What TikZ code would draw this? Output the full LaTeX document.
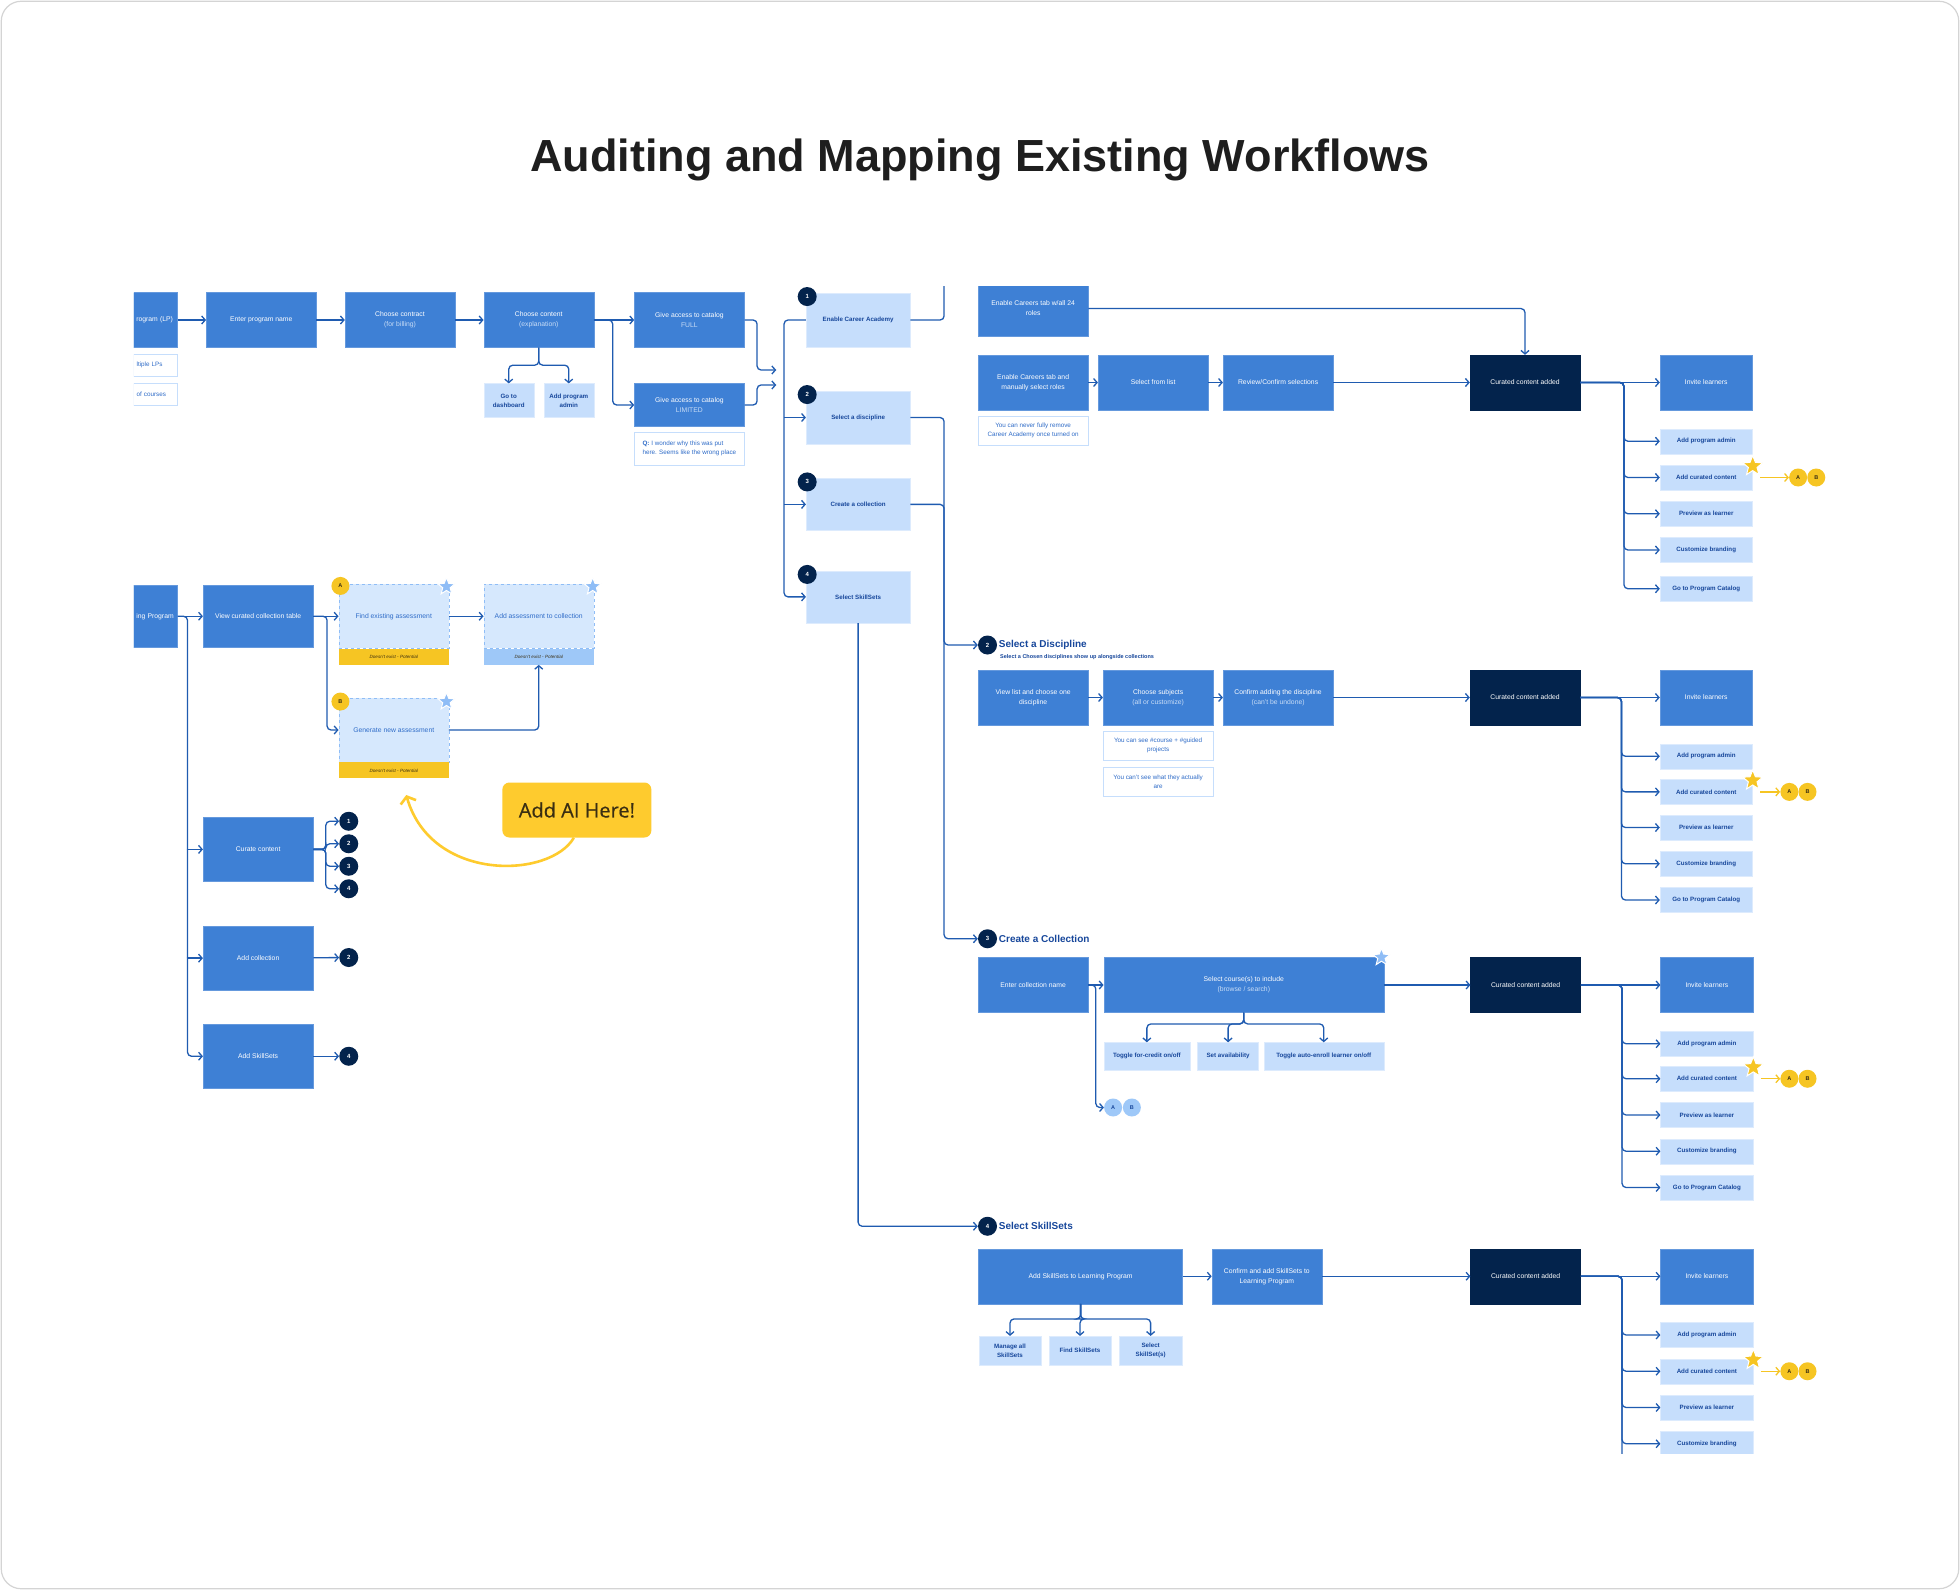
\documentclass[tikz,border=0pt]{standalone}
\usepackage{fontspec}
\setmainfont{Liberation Sans}
\newfontfamily\aifont[FakeBold=0.6]{Open Sans}
\usepackage{xcolor}
\usepackage{tikz}
\usetikzlibrary{calc, positioning, arrows.meta, shapes.geometric}
\definecolor{flowblue}{HTML}{3E80D5}
\definecolor{flowlite}{HTML}{C6DEFC}
\definecolor{flowpale}{HTML}{D6E8FD}
\definecolor{flownavy}{HTML}{03234C}
\definecolor{flowwire}{HTML}{1F5BB0}
\definecolor{flowink}{HTML}{17479B}
\definecolor{flownote}{HTML}{2F6CC8}
\definecolor{flowsub}{HTML}{C9DDF6}
\definecolor{flowgold}{HTML}{F6C523}
\definecolor{flowai}{HTML}{FECB2E}
\definecolor{flowaiink}{HTML}{3A2E12}
\definecolor{flowsky}{HTML}{9EC8F8}
\definecolor{flowstar}{HTML}{8FBDF6}
\definecolor{flowframe}{HTML}{D4D4D4}
\definecolor{flowtitle}{HTML}{1E1E1E}
\newcommand{\dimtext}[1]{{\color{flowsub}#1}}

\begin{document}
\begin{tikzpicture}[x=1.25pt, y=-1.25pt, font=\fontsize{6.8}{10}\selectfont]

\useasboundingbox (0,0) rectangle (1568,1272);

% Frame
\draw[flowframe, line width=1.2pt, rounded corners=20pt, fill=white] (1,1) rectangle (1567,1271);

% Title
\node[font=\fontsize{45}{54}\selectfont\bfseries, text=flowtitle] (title) at (784,128) {Auditing and Mapping Existing Workflows};

% Styles
\tikzset{
  blk/.style={draw=flowblue!80!white, fill=flowblue, text=white, align=center, inner sep=1pt, minimum width=110pt, minimum height=55pt},
  darkblk/.style={blk, draw=flownavy, fill=flownavy},
  lite/.style={draw=flowlite!60!white, fill=flowlite, text=flowink, align=center, inner sep=1pt, minimum width=92.5pt, minimum height=25pt, font=\fontsize{6.2}{9}\selectfont\bfseries},
  memo/.style={draw=flowlite, fill=white, text=flownote, align=center, inner sep=1pt, minimum width=110pt, minimum height=29pt, font=\fontsize{6.3}{9}\selectfont},
  pot/.style={draw=flowstar, dashed, fill=flowpale, text=flownote, inner sep=1pt, minimum width=110pt, minimum height=64pt},
  potfoot/.style={fill=flowgold, text=flowaiink, inner sep=0pt, minimum width=110pt, minimum height=16pt, font=\fontsize{4.6}{5}\selectfont\itshape},
  badge/.style={circle, fill=flownavy, text=white, inner sep=0pt, minimum size=19pt, font=\fontsize{6}{6}\selectfont\bfseries},
  goldb/.style={circle, fill=flowgold, text=flowaiink, inner sep=0pt, minimum size=18pt, font=\fontsize{5.5}{6}\selectfont\bfseries},
  ghost/.style={circle, fill=flowsky, text=flowink, inner sep=0pt, minimum size=18pt, font=\fontsize{5.5}{6}\selectfont\bfseries},
  hdr/.style={text=flowink, inner sep=1pt, font=\fontsize{10}{12}\selectfont\bfseries},
  wstar/.style={star, star points=5, star point ratio=2.3, minimum size=21pt, inner sep=0pt, fill=flowgold, draw=white, line width=1pt},
  bstar/.style={wstar, minimum size=18pt, fill=flowstar},
  wire/.style={draw=flowwire, line width=1.3pt, rounded corners=4pt, -{Straight Barb[length=3.5pt, width=8pt]}},
  bare/.style={wire, -},
  goldwire/.style={draw=flowgold, line width=1.3pt, -{Straight Barb[length=3.5pt, width=8pt]}}
}

\begin{scope}
\clip (107,229) rectangle (1566,1163);

% -- Top row: program setup --
\node[blk, minimum width=44pt, anchor=east, text width=38pt, align=left] (lpA) at (142,256) {rogram (LP)};
\node[memo, minimum width=44pt, minimum height=22pt, text width=38pt, align=left] (lpNoteA) at (124.5,292) {ltiple LPs};
\node[memo, minimum width=44pt, minimum height=22pt, text width=38pt, align=left] (lpNoteB) at (124.5,315) {of courses};
\node[blk] (progName) at (209,256) {Enter program name};
\node[blk] (contract) at (320,256) {Choose contract\\\dimtext{(for billing)}};
\node[blk] (content) at (431,256) {Choose content\\\dimtext{(explanation)}};
\node[lite, minimum width=50pt, minimum height=34pt] (dash) at (407,320.5) {Go to\\dashboard};
\node[lite, minimum width=50pt, minimum height=34pt] (progAdmin) at (455,320.5) {Add program\\admin};
\node[blk] (fullCat) at (551.5,256) {Give access to catalog\\\dimtext{FULL}};
\node[blk, minimum height=43pt] (limCat) at (551.5,324) {Give access to catalog\\\dimtext{LIMITED}};
\node[memo, align=left, minimum height=33pt] (qNote) at (551.5,359) {\textbf{Q:} I wonder why this was put\\here. Seems like the wrong place};

\draw[wire] (lpA) -- (progName);
\draw[wire] (progName) -- (contract);
\draw[wire] (contract) -- (content);
\draw[wire] (content) -- (fullCat);
\draw[wire] (content.east) -- ++(15,0) |- (limCat);
\draw[wire] (content.south) -- ++(0,14) -| (dash);
\draw[wire] (content.south) -- ++(0,14) -| (progAdmin);
\coordinate (busInA) at (621,296);
\coordinate (busInB) at (621,308);
\draw[wire] (fullCat.east) -- ++(10,0) |- (busInA);
\draw[wire] (limCat.east) -- ++(10,0) |- (busInB);

% -- Middle column: four choices --
\node[lite, minimum width=104pt, minimum height=54pt] (careerAc) at (686.5,256) {Enable Career Academy};
\node[lite, minimum width=104pt, minimum height=53pt] (pickDisc) at (686.5,334) {Select a discipline};
\node[lite, minimum width=104pt, minimum height=52pt] (makeColl) at (686.5,403.5) {Create a collection};
\node[lite, minimum width=104pt, minimum height=52pt] (pickSets) at (686.5,477.5) {Select SkillSets};
\foreach \nm/\k in {careerAc/1, pickDisc/2, makeColl/3, pickSets/4} {
  \node[badge] (\nm Tag) at ([shift={(1,3)}]\nm.north west) {\k};
}
\draw[wire] (careerAc.west) -- ++(-17.5,0) |- (pickSets);
\draw[wire] ($(pickDisc.west)+(-17.5,0)$) -- (pickDisc);
\draw[wire] ($(makeColl.west)+(-17.5,0)$) -- (makeColl);
\draw[bare] (careerAc.east) -- ++(27,0) -- ++(0,-40);

% -- Section 1: Career Academy --
\node[blk, anchor=south] (allRoles) at (826.5,269) {Enable Careers tab w/all 24\\roles};
\node[blk] (manRoles) at (826.5,306) {Enable Careers tab and\\manually select roles};
\node[memo] (neverNote) at (826.5,344.5) {You can never fully remove\\Career Academy once turned on};
\node[blk] (fromList) at (922.5,306) {Select from list};
\node[blk] (reviewSel) at (1022.5,306) {Review/Confirm selections};
\node[darkblk] (curA) at (1220,306) {Curated content added};
\node[blk, minimum width=92.5pt] (inviteA) at (1365,306) {Invite learners};

\draw[wire] (allRoles.east) -| (curA.north);
\draw[wire] (manRoles) -- (fromList);
\draw[wire] (fromList) -- (reviewSel);
\draw[wire] (reviewSel) -- (curA);
\draw[wire] (curA) -- (inviteA);
\foreach \nm/\yy/\txt in {adminA/353/Add program admin, curatedA/382/Add curated content, previewA/411/Preview as learner, brandA/440/Customize branding, catalogA/471/Go to Program Catalog} {
  \node[lite] (\nm) at (1365,\yy) {\txt};
  \draw[wire] (curA.east) -- ++(35,0) |- (\nm);
}
\node[goldb] (bA) at (1453,382) {B};
\node[goldb] (aA) at (1438.5,382) {A};
\draw[goldwire] ($(curatedA.east)+(6,0)$) -- (aA);
\node[wstar] (starA) at ([shift={(0,1)}]curatedA.north east) {};

% -- Section 2: Select a Discipline --
\node[badge] (hdrDisc) at (790,516) {2};
\node[hdr, right=0.5pt of hdrDisc] (hdrDiscT) {Select a Discipline};
\node[anchor=west, inner sep=0pt, text=flowink, font=\fontsize{5.5}{6}\selectfont\bfseries] (hdrDiscS) at (800,526) {Select a Chosen disciplines show up alongside collections};
\draw[wire] (pickDisc.east) -- ++(27,0) |- (hdrDisc);

\node[blk] (viewList) at (826.5,558) {View list and choose one\\discipline};
\node[blk] (chooseSubj) at (926.5,558) {Choose subjects\\\dimtext{(all or customize)}};
\node[blk] (confirmDisc) at (1022.5,558) {Confirm adding the discipline\\\dimtext{(can't be undone)}};
\node[memo] (seeNote) at (926.5,596.5) {You can see \#course + \#guided\\projects};
\node[memo] (cantNote) at (926.5,625) {You can't see what they actually\\are};
\node[darkblk] (curB) at (1220,558) {Curated content added};
\node[blk, minimum width=92.5pt] (inviteB) at (1365,558) {Invite learners};

\draw[wire] (viewList) -- (chooseSubj);
\draw[wire] (chooseSubj) -- (confirmDisc);
\draw[wire] (confirmDisc) -- (curB);
\draw[wire] (curB) -- (inviteB);
\foreach \nm/\yy/\txt in {adminB/605/Add program admin, curatedB/633.5/Add curated content, previewB/662/Preview as learner, brandB/691/Customize branding, catalogB/720/Go to Program Catalog} {
  \node[lite] (\nm) at (1365,\yy) {\txt};
  \draw[wire] (curB.east) -- ++(33,0) |- (\nm);
}
\node[goldb] (bB) at (1446,633.5) {B};
\node[goldb] (aB) at (1431.5,633.5) {A};
\draw[goldwire] ($(curatedB.east)+(6,0)$) -- (aB);
\node[wstar] (starB) at ([shift={(0,1)}]curatedB.north east) {};

% -- Section 3: Create a Collection --
\node[badge] (hdrColl) at (790,751) {3};
\node[hdr, right=0.5pt of hdrColl] (hdrCollT) {Create a Collection};
\draw[wire] (makeColl.east) -- ++(27,0) |- (hdrColl);

\node[blk] (collName) at (826.5,788) {Enter collection name};
\node[blk, minimum width=280pt] (pickCourse) at (995,788) {Select course(s) to include\\\dimtext{(browse / search)}};
\node[bstar] (starCourse) at ([shift={(-2,0)}]pickCourse.north east) {};
\node[lite, minimum width=86pt, minimum height=27.5pt] (forCredit) at (917.5,845) {Toggle for-credit on/off};
\node[lite, minimum width=61pt, minimum height=27.5pt] (avail) at (982.5,845) {Set availability};
\node[lite, minimum width=120pt, minimum height=27.5pt] (autoEnroll) at (1059,845) {Toggle auto-enroll learner on/off};
\node[ghost] (ghostB) at (905.5,886) {B};
\node[ghost] (ghostA) at (890.5,886) {A};
\node[darkblk] (curC) at (1220.5,788) {Curated content added};
\node[blk, minimum width=92.5pt] (inviteC) at (1365.5,788) {Invite learners};

\draw[wire] (collName) -- (pickCourse);
\draw[wire] (collName.east) -- ++(6,0) |- (ghostA);
\draw[wire] (pickCourse.south) -- ++(0,9) -| (forCredit);
\draw[wire] (pickCourse.south) -- ++(0,9) -| (avail);
\draw[wire] (pickCourse.south) -- ++(0,9) -| (autoEnroll);
\draw[wire] (pickCourse) -- (curC);
\draw[wire] (curC) -- (inviteC);
\foreach \nm/\yy/\txt in {adminC/835/Add program admin, curatedC/863/Add curated content, previewC/892/Preview as learner, brandC/921/Customize branding, catalogC/950/Go to Program Catalog} {
  \node[lite] (\nm) at (1365.5,\yy) {\txt};
  \draw[wire] (curC.east) -- ++(33,0) |- (\nm);
}
\node[goldb] (bC) at (1446,863) {B};
\node[goldb] (aC) at (1431.5,863) {A};
\draw[goldwire] ($(curatedC.east)+(6,0)$) -- (aC);
\node[wstar] (starC) at ([shift={(0,1)}]curatedC.north east) {};

% -- Section 4: Select SkillSets --
\node[badge] (hdrSets) at (790,981) {4};
\node[hdr, right=0.5pt of hdrSets] (hdrSetsT) {Select SkillSets};
\draw[wire] (pickSets.south) |- (hdrSets);

\node[blk, minimum width=204pt] (addSets) at (864.5,1021) {Add SkillSets to Learning Program};
\node[blk] (confirmSets) at (1013.5,1021) {Confirm and add SkillSets to\\Learning Program};
\node[lite, minimum width=62.5pt, minimum height=29pt] (manageSets) at (808,1080.5) {Manage all\\SkillSets};
\node[lite, minimum width=62.5pt, minimum height=29pt] (findSets) at (864,1080.5) {Find SkillSets};
\node[lite, minimum width=62.5pt, minimum height=29pt] (selSets) at (920.5,1080.5) {Select\\SkillSet(s)};
\node[darkblk] (curD) at (1220.5,1021) {Curated content added};
\node[blk, minimum width=92.5pt] (inviteD) at (1365.5,1021) {Invite learners};

\draw[wire] (addSets.south) -- ++(0,12) -| (manageSets);
\draw[wire] (addSets.south) -- ++(0,12) -| (findSets);
\draw[wire] (addSets.south) -- ++(0,12) -| (selSets);
\draw[wire] (addSets) -- (confirmSets);
\draw[wire] (confirmSets) -- (curD);
\draw[wire] (curD) -- (inviteD);
\draw[bare] (curD.east) -- ++(33,0) -- ++(0,170);
\foreach \nm/\yy/\txt in {adminD/1068/Add program admin, curatedD/1097/Add curated content, previewD/1126/Preview as learner, brandD/1155/Customize branding} {
  \node[lite] (\nm) at (1365.5,\yy) {\txt};
  \draw[wire] (curD.east) -- ++(33,0) |- (\nm);
}
\node[goldb] (bD) at (1446,1097) {B};
\node[goldb] (aD) at (1431.5,1097) {A};
\draw[goldwire] ($(curatedD.east)+(6,0)$) -- (aD);
\node[wstar] (starD) at ([shift={(0,1)}]curatedD.north east) {};

% -- Left: curated collection flow --
\node[blk, minimum width=44pt, minimum height=62.5pt, anchor=east, text width=38pt, align=left] (lpB) at (142,493) {ing Program};
\node[blk, minimum height=62.5pt] (viewTable) at (206.5,493) {View curated collection table};

\node[pot] (findAsmt) at (315,493) {Find existing assessment};
\node[potfoot, anchor=north] (findFoot) at (findAsmt.south) {Doesn't exist - Potential};
\node[pot] (addAsmt) at (431,493) {Add assessment to collection};
\node[potfoot, anchor=north, fill=flowsky] (addFoot) at (addAsmt.south) {Doesn't exist - Potential};
\node[pot] (genAsmt) at (315,584) {Generate new assessment};
\node[potfoot, anchor=north] (genFoot) at (genAsmt.south) {Doesn't exist - Potential};
\node[goldb] (tagA) at ([shift={(1.5,1.5)}]findAsmt.north west) {A};
\node[goldb] (tagB) at ([shift={(1.5,3)}]genAsmt.north west) {B};
\node[bstar] (starFind) at ([shift={(-2,2)}]findAsmt.north east) {};
\node[bstar] (starAdd) at ([shift={(-1,2)}]addAsmt.north east) {};
\node[bstar] (starGen) at ([shift={(-2,3)}]genAsmt.north east) {};

\draw[wire] (lpB) -- (viewTable);
\draw[wire] (viewTable) -- (findAsmt);
\draw[wire] (viewTable.east) -- ++(11,0) |- (genAsmt);
\draw[wire] (findAsmt) -- (addAsmt);
\draw[wire] (genAsmt.east) -| (addFoot.south);

% Add AI callout
\node[fill=flowai, rounded corners=7pt, minimum width=149pt, minimum height=55pt, text=flowaiink, font=\aifont\fontsize{20}{24}\selectfont] (aiBox) at (461.5,648) {Add AI Here!};
\coordinate (aiTip) at (325,636);
\draw[draw=flowai, line width=2.6pt, -{Straight Barb[length=6pt, width=16pt]}] ([xshift=-3pt]aiBox.south) .. controls (440,703) and (345,706) .. (aiTip);

% Curate, collection, skillsets
\node[blk, minimum height=64pt] (curate) at (206.5,679.5) {Curate content};
\node[blk, minimum height=64pt] (addColl) at (206.5,766.5) {Add collection};
\node[blk, minimum height=64pt] (addSkill) at (206.5,845) {Add SkillSets};
\draw[wire] (lpB.east) -- ++(8,0) |- (addSkill);
\draw[wire] ($(curate.west)+(-13,0)$) -- (curate);
\draw[wire] ($(addColl.west)+(-13,0)$) -- (addColl);
\foreach \k/\yy in {1/657, 2/675, 3/693, 4/711} {
  \node[badge] (cur\k) at (279,\yy) {\k};
  \draw[wire] (curate.east) -- ++(10,0) |- (cur\k);
}
\node[badge] (collTwo) at (279,766) {2};
\node[badge] (skillFour) at (279,845) {4};
\draw[wire] (addColl) -- (collTwo);
\draw[wire] (addSkill) -- (skillFour);

\end{scope}

\end{tikzpicture}
\end{document}
